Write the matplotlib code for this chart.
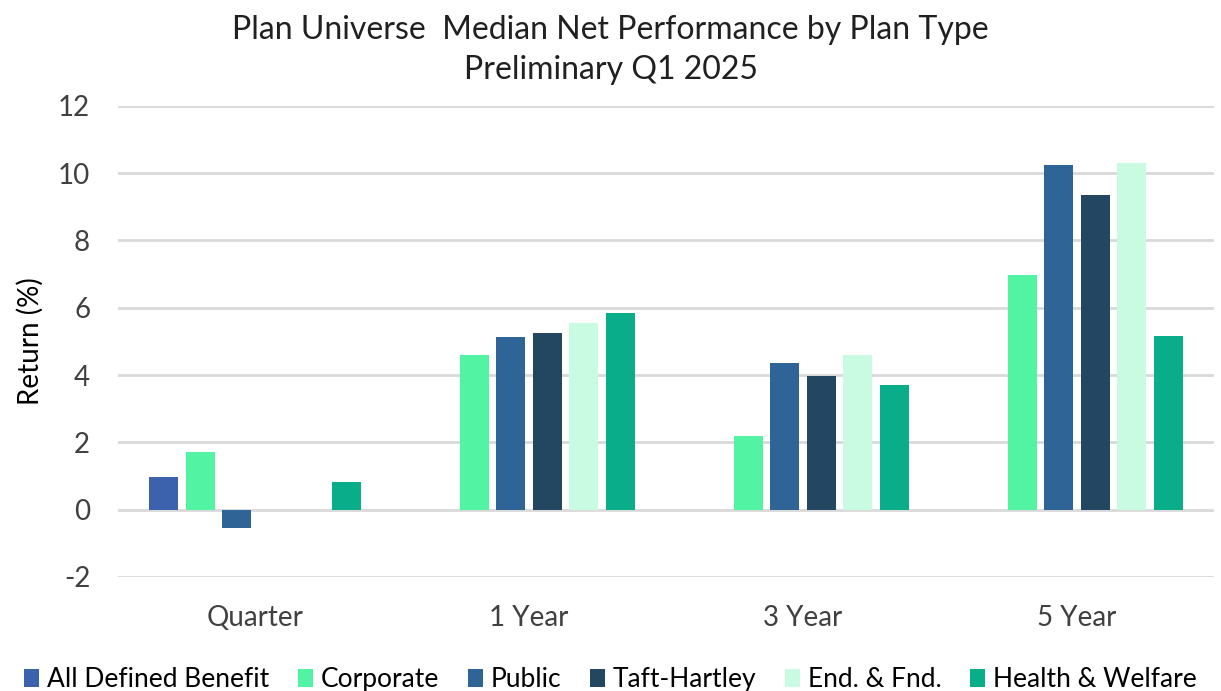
import matplotlib.pyplot as plt
import numpy as np

plt.rcParams["font.family"] = ["Lato", "DejaVu Sans"]

periods = ["Quarter", "1 Year", "3 Year", "5 Year"]
plan_types = ["All Defined Benefit", "Corporate", "Public", "Taft-Hartley",
              "End. & Fnd.", "Health & Welfare"]
all_db = [0.98, np.nan, np.nan, np.nan]
corporate = [1.7, 4.58, 2.2, 6.96]
public = [-0.54, 5.12, 4.35, 10.24]
taft_hartley = [np.nan, 5.24, 3.96, 9.35]
end_fnd = [np.nan, 5.54, 4.58, 10.3]
health_welfare = [0.83, 5.83, 3.69, 5.15]
colors = ["#3d62ad", "#52f3a2", "#2e6496", "#234661", "#c8fbe2", "#0aad8a"]

series = [all_db, corporate, public, taft_hartley, end_fnd, health_welfare]

fig = plt.figure(figsize=(12.21, 6.91), dpi=100)
ax = fig.add_axes([0.0966, 0.165, 0.8976, 0.682])

x = np.arange(len(periods))
slot = 0.133
w = 0.106
for i, (vals, label, c) in enumerate(zip(series, plan_types, colors)):
    ax.bar(x + (i - 2.5) * slot, vals, w, label=label, color=c, zorder=3)

ax.set_xlim(-0.5, 3.5)
ax.set_ylim(-2, 12)
ax.set_yticks(np.arange(-2, 13, 2))
ax.set_yticklabels([str(v) for v in range(-2, 13, 2)])
ax.grid(axis="y", color="#d9d9d9", linewidth=2, zorder=0)
ax.set_xticks(x)
ax.set_xticklabels(periods, fontsize=20, color="#404040")
ax.tick_params(axis="y", labelsize=20, labelcolor="#404040", length=0, pad=20)
ax.tick_params(axis="x", length=0, pad=20)
for s in ax.spines.values():
    s.set_visible(False)
ax.set_ylabel("Return (%)", fontsize=20, color="#000000", labelpad=10)

fig.suptitle("Plan Universe  Median Net Performance by Plan Type\nPreliminary Q1 2025",
             fontsize=23, y=0.978, color="#202020", linespacing=1.42)

fig.legend(loc="lower center", ncol=6, fontsize=19, frameon=False,
           bbox_to_anchor=(0.5, -0.036), handlelength=0.55, handleheight=0.7,
           handletextpad=0.3, columnspacing=1.1)

fig.savefig("out.png", dpi=100)
